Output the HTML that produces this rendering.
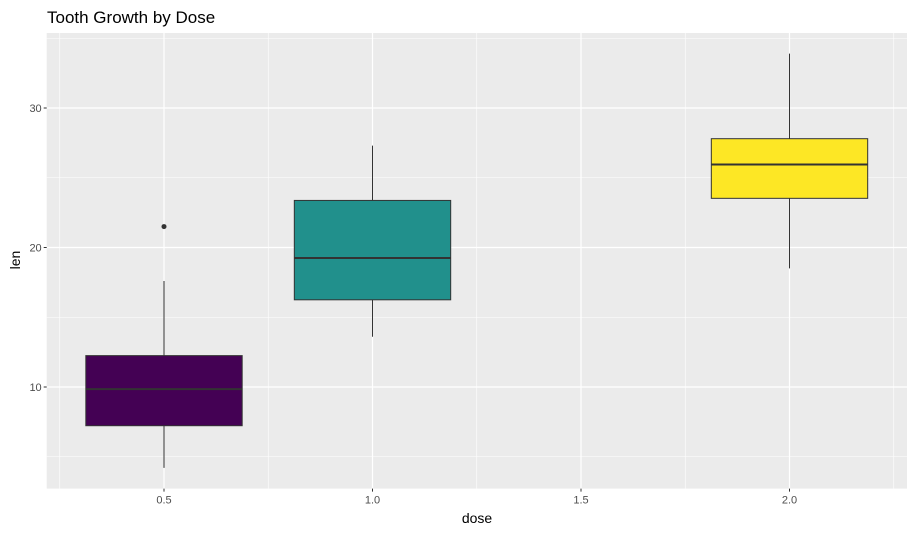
<!DOCTYPE html>
<html><head><meta charset="utf-8">
<style>
body{margin:0;background:#fff;font-family:"Liberation Sans",sans-serif;}
svg text{font-family:"Liberation Sans",sans-serif;}
</style></head>
<body>
<svg id="chart" width="917" height="533">
<text x="47" y="23" font-size="17" fill="#000">Tooth Growth by Dose</text>
<text x="477" y="523" font-size="14" text-anchor="middle" fill="#000">dose</text>
<text transform="translate(20,260) rotate(-90)" font-size="14" text-anchor="middle" fill="#000">len</text>
<g id="plot"></g>
</svg>
<script>
const doses=[0.5,1.0,2.0];
const mins=[4.2,13.6,18.5];
const q1s=[7.225,16.25,23.525];
const medians=[9.85,19.25,25.95];
const q3s=[12.25,23.375,27.8];
const maxs=[17.6,27.3,33.9];
const colors=["#440154","#21908C","#FDE725"];
const outlierX=[0.5];
const outlierY=[21.5];
const xTicks=[0.5,1.0,1.5,2.0];
const xTickLabels=["0.5","1.0","1.5","2.0"];
const yTicks=[10,20,30];
const yTickLabels=["10","20","30"];
const xMinor=[0.25,0.75,1.25,1.75,2.25];
const yMinor=[5,15,25,35];

const PL=46.7,PR=907,PT=33,PB=488.6;
const xs=v=>164+(v-0.5)*417;
const ys=v=>387-(v-10)*13.95;
const ns="http://www.w3.org/2000/svg";
const g=document.getElementById('plot');
function mk(t,a){const e=document.createElementNS(ns,t);for(const k in a)e.setAttribute(k,a[k]);g.appendChild(e);return e;}
let e=mk('rect',{x:PL,y:PT,width:PR-PL,height:PB-PT,fill:'#EBEBEB'});


xMinor.forEach(v=>{const l=mk('line',{x1:xs(v),x2:xs(v),y1:PT,y2:PB,stroke:'#fff','stroke-width':0.6});

});
yMinor.forEach(v=>{if(ys(v)<PT)return;const l=mk('line',{x1:PL,x2:PR,y1:ys(v),y2:ys(v),stroke:'#fff','stroke-width':0.6});

});
xTicks.forEach((v,i)=>{const l=mk('line',{x1:xs(v),x2:xs(v),y1:PT,y2:PB,stroke:'#fff','stroke-width':1.2});


const t=mk('line',{x1:xs(v),x2:xs(v),y1:PB,y2:PB+3,stroke:'#333','stroke-width':1});


const tx=mk('text',{x:xs(v),y:PB+15,'font-size':11,'text-anchor':'middle',fill:'#4D4D4D'});tx.textContent=xTickLabels[i];

});
yTicks.forEach((v,i)=>{const l=mk('line',{x1:PL,x2:PR,y1:ys(v),y2:ys(v),stroke:'#fff','stroke-width':1.2});


const t=mk('line',{x1:PL-3,x2:PL,y1:ys(v),y2:ys(v),stroke:'#333','stroke-width':1});


const tx=mk('text',{x:PL-5,y:ys(v)+4,'font-size':11,'text-anchor':'end',fill:'#4D4D4D'});tx.textContent=yTickLabels[i];

});
const hw=0.1875;
doses.forEach((d,i)=>{
 const cx=xs(d);
 const w1=mk('line',{x1:cx,x2:cx,y1:ys(maxs[i]),y2:ys(q3s[i]),stroke:'#333','stroke-width':1});
 
 
 const w2=mk('line',{x1:cx,x2:cx,y1:ys(q1s[i]),y2:ys(mins[i]),stroke:'#333','stroke-width':1});
 
 
 const b=mk('rect',{x:xs(d-hw),y:ys(q3s[i]),width:xs(d+hw)-xs(d-hw),height:ys(q1s[i])-ys(q3s[i]),fill:colors[i],stroke:'#333','stroke-width':1});
 
 
 const m=mk('line',{x1:xs(d-hw),x2:xs(d+hw),y1:ys(medians[i]),y2:ys(medians[i]),stroke:'#333','stroke-width':2});
 
 
});
outlierX.forEach((v,i)=>{const c=mk('circle',{cx:xs(v),cy:ys(outlierY[i]),r:2.5,fill:'#333'});

});
</script>
</body></html>
